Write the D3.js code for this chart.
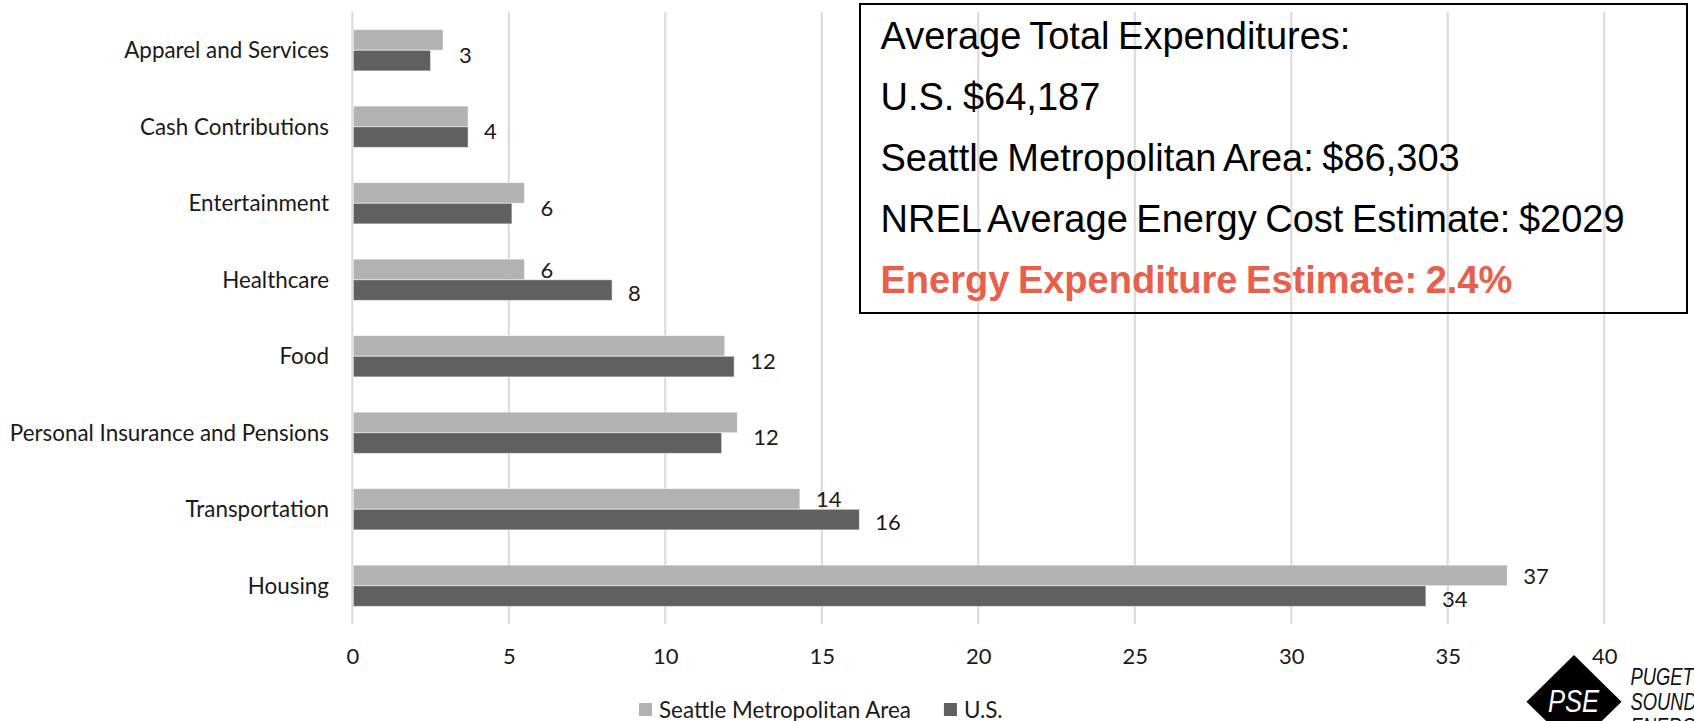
<!DOCTYPE html>
<html>
<head>
<meta charset="utf-8">
<script src="https://cdn.jsdelivr.net/npm/d3@7/dist/d3.min.js"></script>
<style>
  html, body { margin: 0; padding: 0; background: #ffffff; }
  svg { display: block; }
</style>
</head>
<body>
<svg id="chart" width="1694" height="721"></svg>
<script>
// Household spending shares (%) by category
const categories = [
  "Apparel and Services",
  "Cash Contributions",
  "Entertainment",
  "Healthcare",
  "Food",
  "Personal Insurance and Pensions",
  "Transportation",
  "Housing"
];
const seattleValues = [2.9, 3.7, 5.5, 5.5, 11.9, 12.3, 14.3, 36.9];
const usValues      = [2.5, 3.7, 5.1, 8.3, 12.2, 11.8, 16.2, 34.3];

const seriesKeys   = ["sea", "us"];
const seriesNames  = ["Seattle Metropolitan Area", "U.S."];
const seriesColors = ["#b2b2b2", "#606060"];

// which series carry a visible value label in each category
const labelSeries = [["sea"], ["sea"], ["sea"], ["sea", "us"], ["us"], ["sea"], ["sea", "us"], ["sea", "us"]];

const xTicks = [0, 5, 10, 15, 20, 25, 30, 35, 40];

const summaryLines = [
  "Average Total Expenditures:",
  "U.S. $64,187",
  "Seattle Metropolitan Area: $86,303",
  "NREL Average Energy Cost Estimate: $2029",
  "Energy Expenditure Estimate: 2.4%"
];

const logoLines = ["PUGET", "SOUND", "ENERGY"];

// ---------------------------------------------------------------
const svg = d3.select("#chart");
const labelFont = "Lato, 'Open Sans', sans-serif";

const rows = categories.map((c, i) => ({ cat: c, sea: seattleValues[i], us: usValues[i], labels: labelSeries[i] }));

const x = d3.scaleLinear().domain([0, 40]).range([352.3, 1604.3]);
const y = d3.scaleBand().domain(categories).range([12, 624]).paddingInner(0.46).paddingOuter(0.23);
const ySub = d3.scaleBand().domain(seriesKeys).range([0, y.bandwidth()]);
const color = d3.scaleOrdinal().domain(seriesKeys).range(seriesColors);
const fmt = d3.format(".0f");

// vertical gridlines
svg.append("g")
  .selectAll("line")
  .data(xTicks)
  .join("line")
  .attr("x1", d => x(d)).attr("x2", d => x(d))
  .attr("y1", 12).attr("y2", 624)
  .attr("stroke", "#d9d9d9")
  .attr("stroke-width", 2);

// x axis labels
const xAxis = d3.axisBottom(x).tickValues(xTicks).tickSize(0).tickPadding(0).tickFormat(d3.format("d"));
const gx = svg.append("g").attr("transform", "translate(0,648)").call(xAxis);
gx.select(".domain").remove();
gx.selectAll("text")
  .attr("dy", "0.71em")
  .style("font-family", labelFont)
  .style("font-size", "22px")
  .attr("fill", "#1a1a1a");

// category labels
const yAxis = d3.axisLeft(y).tickSize(0).tickPadding(0);
const gy = svg.append("g").attr("transform", "translate(329,1)").call(yAxis);
gy.select(".domain").remove();
gy.selectAll("text")
  .style("font-family", labelFont)
  .style("font-size", "22.4px")
  .attr("fill", "#1a1a1a");

// bars
const groups = svg.append("g")
  .selectAll("g")
  .data(rows)
  .join("g")
  .attr("transform", d => `translate(0,${y(d.cat)})`);

groups.selectAll("rect")
  .data(d => seriesKeys.map(k => ({ key: k, value: d[k] })))
  .join("rect")
  .attr("x", x(0) + 1)
  .attr("y", d => ySub(d.key))
  .attr("width", d => x(d.value) - x(0) - 1)
  .attr("height", ySub.bandwidth())
  .attr("fill", d => color(d.key))
  .attr("stroke", "#ffffff")
  .attr("stroke-opacity", 0.55)
  .attr("stroke-width", 1);

// value labels
groups.selectAll("text")
  .data(d => d.labels.map(k => ({ key: k, value: d[k], single: d.labels.length === 1 })))
  .join("text")
  .attr("x", d => x(d.value) + 16)
  .attr("y", d => d.single ? y.bandwidth() / 2 + 4 : ySub(d.key) + ySub.bandwidth() / 2 + (d.key === "us" ? 2 : 0))
  .attr("dominant-baseline", "central")
  .style("font-family", labelFont)
  .style("font-size", "22px")
  .attr("fill", "#1a1a1a")
  .text(d => fmt(d.value));

// legend
const legend = svg.append("g").attr("transform", "translate(639,703)");
let lx = 0;
seriesKeys.forEach((k, i) => {
  const item = legend.append("g").attr("transform", `translate(${lx},0)`);
  item.append("rect").attr("width", 13).attr("height", 13).attr("fill", color(k));
  const t = item.append("text")
    .attr("x", 20).attr("y", 14.5)
    .style("font-family", labelFont)
    .style("font-size", "22.4px")
    .attr("fill", "#1a1a1a")
    .text(seriesNames[i]);
  lx += 20 + t.node().getComputedTextLength() + 33;
});

// summary box
const box = svg.append("g");
box.append("rect")
  .attr("x", 860).attr("y", 4)
  .attr("width", 827).attr("height", 309)
  .attr("fill", "none")
  .attr("stroke", "#000000")
  .attr("stroke-width", 2);
box.selectAll("text")
  .data(summaryLines)
  .join("text")
  .attr("x", 880.5)
  .attr("y", (d, i) => 48.5 + i * 61)
  .style("font-family", "'Liberation Sans', Arial, sans-serif")
  .style("font-size", "38px")
  .style("font-weight", (d, i) => i === summaryLines.length - 1 ? "bold" : "normal")
  .style("word-spacing", "-2px")
  .attr("fill", (d, i) => i === summaryLines.length - 1 ? "#e8604c" : "#000000")
  .text(d => d);

// company mark
const logo = svg.append("g");
logo.append("path")
  .attr("d", "M1526.5,701.7 L1574,655 L1621.5,701.7 L1574,748.4 Z")
  .attr("fill", "#000000");
logo.append("g")
  .attr("transform", "translate(1573.5,711.7) scale(0.8,1)")
  .append("text")
  .attr("text-anchor", "middle")
  .style("font-family", "'Liberation Sans', sans-serif")
  .style("font-style", "italic")
  .style("font-size", "32px")
  .attr("fill", "#ffffff")
  .text("PSE");
logo.append("g")
  .attr("transform", "translate(1630.5,0) scale(0.8,1)")
  .selectAll("text")
  .data(logoLines)
  .join("text")
  .attr("x", 0)
  .attr("y", (d, i) => 685 + i * 25)
  .style("font-family", "'Liberation Sans', sans-serif")
  .style("font-style", "italic")
  .style("font-size", "23px")
  .attr("fill", "#111111")
  .text(d => d);
</script>
</body>
</html>
